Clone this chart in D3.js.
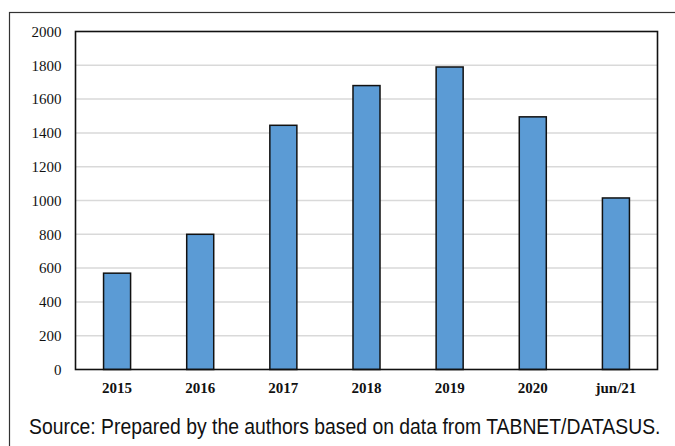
<!DOCTYPE html>
<html>
<head>
<meta charset="utf-8">
<script src="https://cdn.jsdelivr.net/npm/d3@7/dist/d3.min.js"></script>
<style>
  html, body { margin: 0; padding: 0; background: #fff; }
  svg { display: block; }
</style>
</head>
<body>
<svg id="chart" width="675" height="446"></svg>
<script>
// Yearly counts (2021 covers January to June only)
const categories = ["2015", "2016", "2017", "2018", "2019", "2020", "jun/21"];
const values = [570, 800, 1445, 1680, 1790, 1495, 1015];
const yTicks = [0, 200, 400, 600, 800, 1000, 1200, 1400, 1600, 1800, 2000];
const sourceNote = "Source: Prepared by the authors based on data from TABNET/DATASUS.";

const svg = d3.select("#chart");
const plot = { left: 75.5, right: 657.5, top: 31.5, bottom: 369.5 };

// Outer frame (right and bottom edges fall outside the canvas)
svg.append("rect")
  .attr("x", 9.5).attr("y", 12.5)
  .attr("width", 700).attr("height", 500)
  .attr("fill", "none").attr("stroke", "#333").attr("stroke-width", 1.2);

const x = d3.scaleBand()
  .domain(categories)
  .range([plot.left, plot.right])
  .paddingInner(0.675)
  .paddingOuter(0.3375);

const y = d3.scaleLinear()
  .domain([0, 2000])
  .range([plot.bottom, plot.top]);

// Horizontal gridlines
svg.append("g")
  .selectAll("line")
  .data(yTicks.filter(d => d > 0 && d < 2000))
  .join("line")
  .attr("x1", plot.left).attr("x2", plot.right)
  .attr("y1", d => y(d)).attr("y2", d => y(d))
  .attr("stroke", "#d9d9d9").attr("stroke-width", 1.5);

// Bars
svg.append("g")
  .selectAll("rect")
  .data(values)
  .join("rect")
  .attr("x", (d, i) => x(categories[i]))
  .attr("y", d => y(d))
  .attr("width", x.bandwidth())
  .attr("height", d => y(0) - y(d))
  .attr("fill", "#5b9bd5")
  .attr("stroke", "#111")
  .attr("stroke-width", 1.5);

// Plot frame
svg.append("rect")
  .attr("x", plot.left).attr("y", plot.top)
  .attr("width", plot.right - plot.left)
  .attr("height", plot.bottom - plot.top)
  .attr("fill", "none").attr("stroke", "#111").attr("stroke-width", 1.6);

// Y axis labels
const yAxis = d3.axisLeft(y).tickValues(yTicks).tickSize(0).tickPadding(14).tickFormat(d3.format("d"));
const gy = svg.append("g").attr("transform", `translate(${plot.left},0)`).call(yAxis);
gy.select(".domain").remove();
gy.selectAll("text")
  .attr("font-family", "'Liberation Serif', 'Times New Roman', serif")
  .attr("font-size", 15).attr("fill", "#111");

// X axis labels
const xAxis = d3.axisBottom(x).tickSize(0).tickPadding(13);
const gx = svg.append("g").attr("transform", `translate(0,${plot.bottom})`).call(xAxis);
gx.select(".domain").remove();
gx.selectAll("text")
  .attr("font-family", "'Liberation Serif', 'Times New Roman', serif")
  .attr("font-size", 15).attr("font-weight", "bold").attr("fill", "#111");

// Source note, squeezed horizontally into a condensed look
const noteWidth = 632;
const note = svg.append("text")
  .attr("font-family", "'Liberation Sans', Arial, sans-serif")
  .attr("font-size", 23).attr("fill", "#111")
  .text(sourceNote);
const natural = note.node().getComputedTextLength();
note.attr("transform", `translate(29,433.5) scale(${noteWidth / natural},1)`);
</script>
</body>
</html>
